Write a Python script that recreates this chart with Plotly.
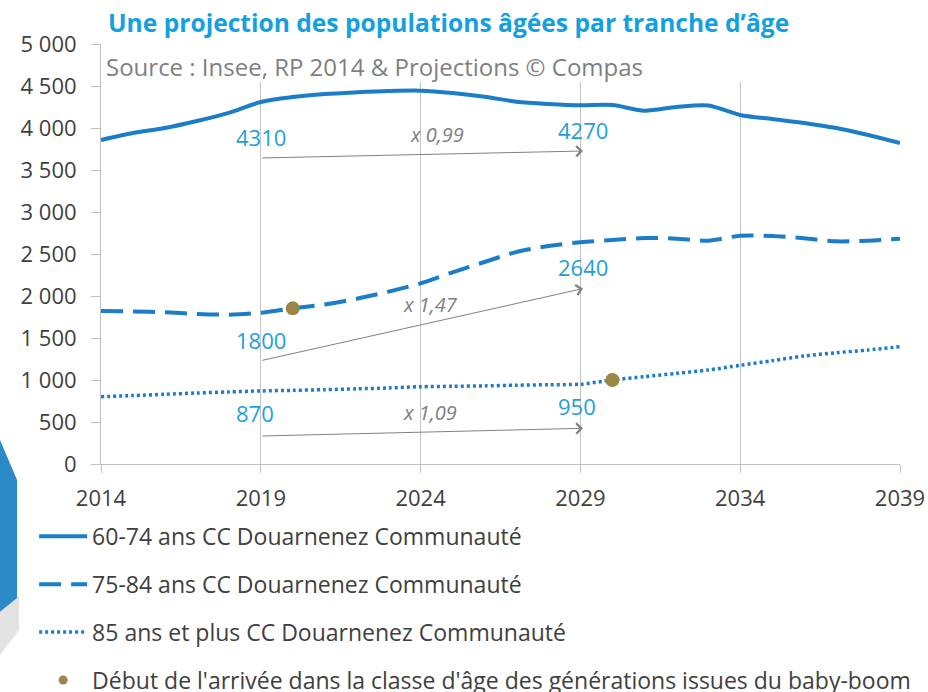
import plotly.graph_objects as go

# Données
annees = list(range(2014, 2040))
pop_60_74 = [3857, 3940, 4000, 4083, 4180, 4310, 4369, 4405, 4425, 4440, 4444, 4417, 4373,
             4313, 4286, 4270, 4274, 4206, 4250, 4268, 4155, 4107, 4060, 4000, 3917, 3821]
pop_75_84 = [1821, 1815, 1806, 1786, 1778, 1800, 1853, 1900, 1968, 2052, 2151, 2282, 2405,
             2524, 2595, 2640, 2667, 2690, 2683, 2659, 2718, 2714, 2687, 2651, 2659, 2683]
pop_85_plus = [801, 815, 830, 845, 858, 870, 877, 885, 895, 905, 920, 925, 930,
               938, 944, 950, 1000, 1040, 1079, 1119, 1175, 1230, 1286, 1325, 1357, 1397]

# Arrivée des générations du baby-boom
bb_annees = [2020, 2030]
bb_valeurs = [1853, 1000]

# Évolutions 2019 -> 2029
val_2019 = [4310, 1800, 870]
val_2029 = [4270, 2640, 950]
coefs = ["x 0,99", "x 1,47", "x 1,09"]
fleche_debut = [3643, 1230, 333]
fleche_fin = [3726, 2088, 425]
pos_val_2019 = [3893, 1476, 607]
pos_val_2029 = [3982, 2345, 685]
pos_coefs = [(2024.5, 3917), (2024.3, 1893), (2024.3, 619)]

noms = ["60-74 ans CC Douarnenez Communauté",
        "75-84 ans CC Douarnenez Communauté",
        "85 ans et plus CC Douarnenez Communauté"]

BLEU = "#1b7dc8"
CYAN = "#1f9fd9"
GRIS = "#808080"
TEXTE = "#404040"
OLIVE = "#9a8645"

fig = go.Figure()

styles = [dict(width=4), dict(width=4, dash="22px,10px"), dict(width=3.5, dash="3px,3px")]
for i, (nom, serie) in enumerate(zip(noms, [pop_60_74, pop_75_84, pop_85_plus])):
    fig.add_trace(go.Scatter(
        x=annees, y=serie, mode="lines", name=nom, legendgroup=f"g{i}",
        line=dict(color=BLEU, shape="spline", smoothing=0.8, **styles[i]),
    ))

fig.add_trace(go.Scatter(
    x=bb_annees, y=bb_valeurs, mode="markers", showlegend=False,
    marker=dict(color=OLIVE, size=14),
))
# entrée de légende pour les points
fig.add_trace(go.Scatter(
    x=[None], y=[None], mode="markers", legendgroup="g3",
    name="Début de l'arrivée dans la classe d'âge des générations issues du baby-boom",
    marker=dict(color=OLIVE, size=9),
))

annotations = [
    dict(xref="paper", yref="paper", x=0.006, y=1.052, xanchor="left", yanchor="middle",
         text="<b>Une projection des populations âgées par tranche d’âge</b>",
         showarrow=False, font=dict(family="Open Sans", size=24.6, color="#13a0e0")),
    dict(xref="paper", yref="paper", x=0.004, y=0.9476, xanchor="left", yanchor="middle",
         text="Source : Insee, RP 2014 & Projections © Compas",
         showarrow=False, font=dict(family="Open Sans", size=24, color="#7f7f7f")),
]

for i in range(3):
    annotations.append(dict(
        x=2029.08, y=fleche_fin[i], ax=2019, ay=fleche_debut[i], axref="x", ayref="y",
        text="", showarrow=True, arrowhead=4, arrowsize=2, arrowwidth=1, arrowcolor=GRIS,
    ))
    annotations.append(dict(
        x=2018.15, y=pos_val_2019[i], text=str(val_2019[i]), showarrow=False,
        xanchor="left", yanchor="middle", font=dict(family="Open Sans", size=22, color=CYAN),
    ))
    annotations.append(dict(
        x=2028.25, y=pos_val_2029[i], text=str(val_2029[i]), showarrow=False,
        xanchor="left", yanchor="middle", font=dict(family="Open Sans", size=22, color=CYAN),
    ))
    annotations.append(dict(
        x=pos_coefs[i][0], y=pos_coefs[i][1], text=f"<i>{coefs[i]}</i>", showarrow=False,
        xanchor="center", yanchor="middle", font=dict(family="Open Sans", size=20, color=GRIS),
    ))

shapes = [
    # fond blanc sous la source (masque le haut des quadrillages)
    dict(type="rect", xref="x", yref="y", x0=2014.08, x1=2035.9, y0=4548, y1=5000,
         fillcolor="white", line=dict(width=0), layer="above"),
    # élément décoratif bleu à gauche, avec son ombre
    dict(type="path", xref="paper", yref="paper",
         path="M -0.1264,-0.3238 L -0.1026,-0.3143 L -0.1026,-0.395 L -0.1264,-0.4548 Z",
         fillcolor="#e3e3e3", line=dict(width=0), layer="below"),
    dict(type="path", xref="paper", yref="paper",
         path="M -0.1264,0.0571 L -0.1051,-0.0381 L -0.1051,-0.319 L -0.1264,-0.352 Z",
         fillcolor="#2b8ac6", line=dict(width=0), layer="below"),
]

fig.update_layout(
    width=928, height=692,
    margin=dict(l=101, r=28, t=44, b=228, autoexpand=False),
    paper_bgcolor="white", plot_bgcolor="white",
    separators=", ",
    font=dict(family="Open Sans", size=22, color=TEXTE),
    annotations=annotations,
    shapes=shapes,
    showlegend=True,
    legend=dict(
        orientation="v", x=-0.0837, y=-0.121, xanchor="left", yanchor="top",
        font=dict(family="Open Sans", size=23, color=TEXTE),
        tracegroupgap=15, itemwidth=48, bgcolor="rgba(0,0,0,0)",
    ),
)

fig.update_xaxes(
    range=[2014, 2039], tick0=2014, dtick=5,
    showgrid=True, gridcolor="#c4c4c4", gridwidth=1,
    showline=True, linecolor="#bfbfbf", linewidth=1,
    ticks="outside", ticklen=8, tickcolor="#bfbfbf", ticklabelstandoff=7,
    tickfont=dict(size=22, color=TEXTE), zeroline=False,
)
fig.update_yaxes(
    range=[0, 5000], dtick=500, separatethousands=True, tickformat=",d",
    showgrid=False, zeroline=False,
    showline=True, linecolor="#bfbfbf", linewidth=1,
    ticks="outside", ticklen=9, tickcolor="#bfbfbf", ticklabelstandoff=10,
    tickfont=dict(size=22, color=TEXTE),
)

# la page est photographiée sans marge autour du graphique
fig.write_html("out.html", config={"displayModeBar": False},
               post_script="document.body.style.margin = '0';")
